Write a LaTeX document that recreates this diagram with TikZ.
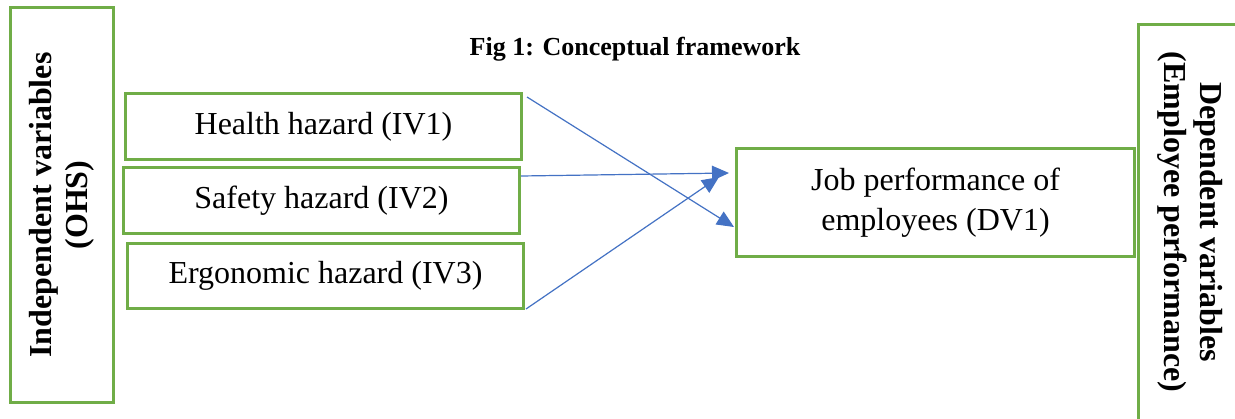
\documentclass[tikz,border=0pt]{standalone}
\usepackage{fontspec}
\setmainfont{Liberation Serif}
\usetikzlibrary{arrows.meta}
\definecolor{boxgreen}{HTML}{70AD47}
\definecolor{arrowblue}{HTML}{4472C4}
\begin{document}
\begin{tikzpicture}[x=1pt,y=-1pt,
  gbox/.style={draw=boxgreen,line width=3pt,rectangle,inner sep=0pt,align=center,
    font=\fontsize{32}{40}\selectfont},
  sidebox/.style={draw=boxgreen,line width=3pt,rectangle,inner sep=0pt,align=center,
    font=\fontsize{32}{36}\selectfont\bfseries},
  link/.style={draw=arrowblue,line width=1.2pt,-{Triangle[length=17pt,width=15pt]}}]
\useasboundingbox (0,0) rectangle (1235,418);
\fill[white] (0,0) rectangle (1235,418);
\clip (0,0) rectangle (1235,418);

\node[font=\fontsize{26}{30}\selectfont\bfseries] (title) at (635,49) {Fig 1: Conceptual framework};

\node[sidebox,rotate=90,minimum width=395pt,minimum height=103pt] (iv) at (62,205)
  {Independent variables\\(OHS)};
\node[sidebox,rotate=-90,minimum width=396pt,minimum height=103pt] (dv) at (1190,222)
  {Dependent variables\\(Employee performance)};

\node[gbox,minimum width=396pt,minimum height=66pt] (h) at (323.5,126.5) {Health hazard (IV1)};
\node[gbox,minimum width=396pt,minimum height=66pt] (s) at (321.5,200.5) {Safety hazard (IV2)};
\node[gbox,minimum width=396pt,minimum height=65pt] (e) at (325.5,276) {Ergonomic hazard (IV3)};
\node[gbox,minimum width=398pt,minimum height=108pt] (j) at (935.5,202.5) {Job performance of\\employees (DV1)};

\draw[link] ([xshift=4pt,yshift=-5pt]h.north east) -- ([xshift=-1pt,yshift=-24.5pt]j.west);
\draw[link] ([yshift=24.5pt]s.east) -- ([xshift=-6pt,yshift=29.5pt]j.west);
\draw[link] ([xshift=1pt,yshift=1pt]e.south east) -- ([xshift=-16pt,yshift=25.5pt]j.west);
\end{tikzpicture}
\end{document}
